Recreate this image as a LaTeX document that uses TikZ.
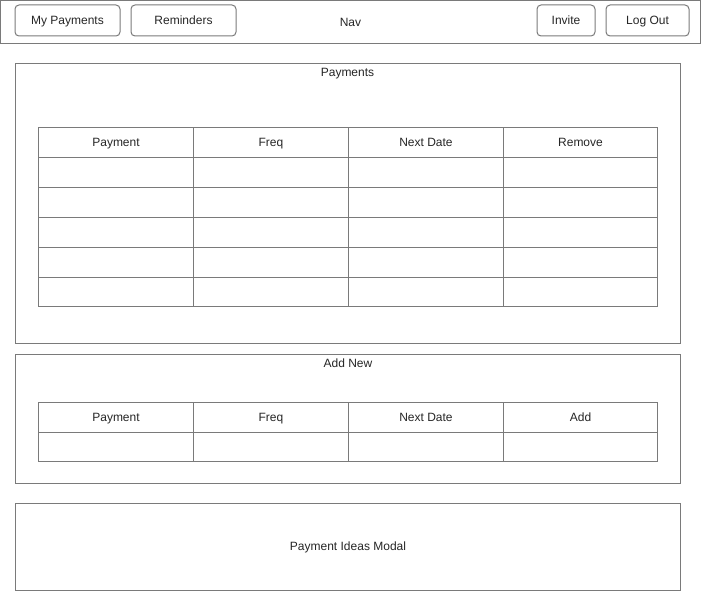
\documentclass[tikz,border=0pt]{standalone}
\usepackage{fontspec}
\setmainfont{Liberation Sans}
\begin{document}
\begin{tikzpicture}[x=1pt,y=-1pt,
  line width=1pt,
  every node/.style={font=\fontsize{12}{14}\selectfont, text=black!85, text height=8.6pt, text depth=0pt, outer sep=0pt},
  frame/.style={draw=black!52, line width=1pt},
  btn/.style={draw=black!52, rounded corners=4pt, line width=1pt, inner sep=0pt, minimum height=31pt},
  cell/.style={draw=black!52, line width=1pt, inner sep=0pt, anchor=north west, minimum height=30pt},
  lbl/.style={inner sep=0pt}
]
\useasboundingbox (0,0) rectangle (701,591);
\fill[white] (0,0) rectangle (701,591);
% Nav bar
\draw[frame] (0.5,0.5) rectangle (700.5,43.5);
\node[lbl] (nav) at (350.5,22.5) {Nav};
\node[btn, minimum width=105pt] (mypay) at (67.5,20.5) {My Payments};
\node[btn, minimum width=105pt] (remind) at (183.5,20.5) {Reminders};
\node[btn, minimum width=58pt] (invite) at (566,20.5) {Invite};
\node[btn, minimum width=83pt] (logout) at (647.5,20.5) {Log Out};
% Payments panel
\draw[frame] (15.5,63.5) rectangle (680.5,343.5);
\node[lbl] (paytitle) at (347.5,72.5) {Payments};
\foreach \c/\x/\w in {1/38.5/155,2/193.5/155,3/348.5/155,4/503.5/154}{
  \foreach \r/\y/\h in {1/127.5/30,2/157.5/30,3/187.5/30,4/217.5/30,5/247.5/30,6/277.5/29}{
    \node[cell, minimum width=\w pt, minimum height=\h pt] (p\r\c) at (\x,\y) {};
  }
}
\node[lbl] (ph1) at (p11.center) {Payment};
\node[lbl] (ph2) at (p12.center) {Freq};
\node[lbl] (ph3) at (p13.center) {Next Date};
\node[lbl] (ph4) at (p14.center) {Remove};
% Add New panel
\draw[frame] (15.5,354.5) rectangle (680.5,483.5);
\node[lbl] (addtitle) at (348,363.5) {Add New};
\foreach \c/\x/\w in {1/38.5/155,2/193.5/155,3/348.5/155,4/503.5/154}{
  \foreach \r/\y/\h in {1/402.5/30,2/432.5/29}{
    \node[cell, minimum width=\w pt, minimum height=\h pt] (a\r\c) at (\x,\y) {};
  }
}
\node[lbl] (ah1) at (a11.center) {Payment};
\node[lbl] (ah2) at (a12.center) {Freq};
\node[lbl] (ah3) at (a13.center) {Next Date};
\node[lbl] (ah4) at (a14.center) {Add};
% Modal
\draw[frame] (15.5,503.5) rectangle (680.5,590.5);
\node[lbl] (modal) at (348,546.5) {Payment Ideas Modal};
\end{tikzpicture}
\end{document}
